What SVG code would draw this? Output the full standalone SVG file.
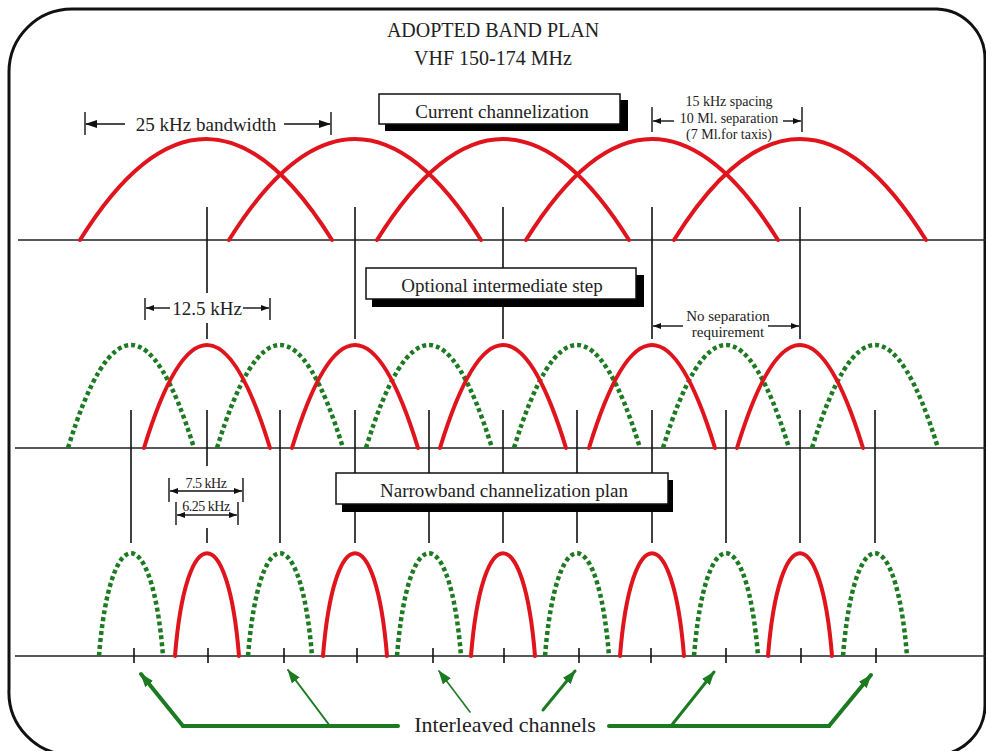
<svg xmlns="http://www.w3.org/2000/svg" width="986" height="751" viewBox="0 0 986 751">
<style>
.red{fill:none;stroke:#e0141c;stroke-width:4;stroke-linecap:round}
.grn{fill:none;stroke:#1c7a20;stroke-width:4.5;stroke-dasharray:4 3}
.ax{stroke:#222;stroke-width:1.6}
.vl{stroke:#111;stroke-width:1.6}
.t{font-family:"Liberation Serif","Times New Roman",serif;fill:#222}
.box{fill:#fff;stroke:#111;stroke-width:1.5}
.sh{fill:#000}
.dim{stroke:#111;stroke-width:1.4;fill:none}
.ga{stroke:#1c7a20;fill:none;stroke-linecap:round}
</style>
<defs>
<marker id="ah" markerUnits="userSpaceOnUse" markerWidth="12" markerHeight="8" refX="11" refY="4" orient="auto"><path d="M0,0 L12,4 L0,8 z" fill="#111"/></marker>
<marker id="ahs" markerUnits="userSpaceOnUse" markerWidth="8" markerHeight="6" refX="8" refY="3" orient="auto"><path d="M0,0 L8,3 L0,6 z" fill="#111"/></marker>
<marker id="gh" markerUnits="userSpaceOnUse" markerWidth="14" markerHeight="10" refX="13" refY="5" orient="auto"><path d="M0,0 L14,5 L0,10 z" fill="#1c7a20"/></marker>
</defs>
<rect width="986" height="751" fill="#fff"/>
<g id="border">
<path d="M9,689 L9,72 A63,63 0 0 1 72,9 L937,9 A50,50 0 0 1 985,59 L985,705 A50,50 0 0 1 935,755 L72,755 A63,63 0 0 1 9,689" fill="none" stroke="#111" stroke-width="3"/>
</g>
<g id="title">
<text class="t" x="493" y="37" font-size="20" text-anchor="middle">ADOPTED BAND PLAN</text>
<text class="t" x="493" y="65" font-size="20" text-anchor="middle">VHF 150-174 MHz</text>
</g>
<g id="axes">
<line class="ax" x1="18" y1="240" x2="986" y2="240"/>
<line class="ax" x1="15" y1="448" x2="986" y2="448"/>
<line class="ax" x1="15" y1="656" x2="986" y2="656"/>
</g>
<g id="connectors">
<line class="vl" x1="207" y1="207" x2="207" y2="293"/>
<line class="vl" x1="207" y1="323" x2="207" y2="339"/>
<line class="vl" x1="355" y1="207" x2="355" y2="339"/>
<line class="vl" x1="503" y1="207" x2="503" y2="339"/>
<line class="vl" x1="652" y1="207" x2="652" y2="339"/>
<line class="vl" x1="800" y1="207" x2="800" y2="339"/>
<line class="vl" x1="131" y1="410" x2="131" y2="543"/>
<line class="vl" x1="207" y1="410" x2="207" y2="466"/>
<line class="vl" x1="207" y1="528" x2="207" y2="543"/>
<line class="vl" x1="280" y1="410" x2="280" y2="543"/>
<line class="vl" x1="355" y1="410" x2="355" y2="543"/>
<line class="vl" x1="429" y1="410" x2="429" y2="543"/>
<line class="vl" x1="503" y1="410" x2="503" y2="543"/>
<line class="vl" x1="577" y1="410" x2="577" y2="543"/>
<line class="vl" x1="652" y1="410" x2="652" y2="543"/>
<line class="vl" x1="726" y1="410" x2="726" y2="543"/>
<line class="vl" x1="800" y1="410" x2="800" y2="543"/>
<line class="vl" x1="875" y1="410" x2="875" y2="543"/>
<g class="vl">
<line x1="134" y1="648" x2="134" y2="663"/><line x1="208" y1="648" x2="208" y2="663"/>
<line x1="284" y1="648" x2="284" y2="663"/><line x1="357" y1="648" x2="357" y2="663"/>
<line x1="433" y1="648" x2="433" y2="663"/><line x1="504" y1="648" x2="504" y2="663"/>
<line x1="579" y1="648" x2="579" y2="663"/><line x1="651" y1="648" x2="651" y2="663"/>
<line x1="726" y1="648" x2="726" y2="663"/><line x1="801" y1="648" x2="801" y2="663"/>
<line x1="876" y1="648" x2="876" y2="663"/>
</g>
</g>
<g id="top-arches">
<path class="red" d="M80,240 Q206,38 332,240"/>
<path class="red" d="M229,240 Q355,38 481,240"/>
<path class="red" d="M377,240 Q503,38 629,240"/>
<path class="red" d="M526,240 Q652,38 778,240"/>
<path class="red" d="M674,240 Q800,38 926,240"/>
</g>
<g id="middle-arches">
<path class="grn" d="M68,448 Q131,242 194,448"/>
<path class="grn" d="M217,448 Q280,242 343,448"/>
<path class="grn" d="M366,448 Q429,242 492,448"/>
<path class="grn" d="M514,448 Q577,242 640,448"/>
<path class="grn" d="M663,448 Q726,242 789,448"/>
<path class="grn" d="M812,448 Q875,242 938,448"/>
<path class="red" d="M144,448 Q207,242 270,448"/>
<path class="red" d="M292,448 Q355,242 418,448"/>
<path class="red" d="M440,448 Q503,242 566,448"/>
<path class="red" d="M589,448 Q652,242 715,448"/>
<path class="red" d="M737,448 Q800,242 863,448"/>
</g>
<g id="bottom-arches">
<path class="grn" d="M99,656 C110,519 152,519 163,656"/>
<path class="red" d="M175,656 C186,519 228,519 239,656"/>
<path class="grn" d="M248,656 C259,519 301,519 312,656"/>
<path class="red" d="M323,656 C334,519 376,519 387,656"/>
<path class="grn" d="M397,656 C408,519 450,519 461,656"/>
<path class="red" d="M471,656 C482,519 524,519 535,656"/>
<path class="grn" d="M545,656 C556,519 598,519 609,656"/>
<path class="red" d="M620,656 C631,519 673,519 684,656"/>
<path class="grn" d="M694,656 C705,519 747,519 758,656"/>
<path class="red" d="M768,656 C779,519 821,519 832,656"/>
<path class="grn" d="M843,656 C854,519 896,519 907,656"/>
</g>
<g id="box-current">
<rect class="sh" x="385" y="100" width="243" height="31"/>
<rect class="box" x="379" y="94" width="241" height="30"/>
<text class="t" x="502" y="118" font-size="19" text-anchor="middle">Current channelization</text>
</g>
<g id="box-optional">
<rect class="sh" x="372" y="275" width="272" height="32"/>
<rect class="box" x="366" y="268" width="270" height="31"/>
<text class="t" x="502" y="292" font-size="19" text-anchor="middle">Optional intermediate step</text>
</g>
<g id="box-narrowband">
<rect class="sh" x="342" y="480" width="331" height="32"/>
<rect class="box" x="336" y="473" width="332" height="31"/>
<text class="t" x="504" y="497" font-size="19" text-anchor="middle">Narrowband channelization plan</text>
</g>
<g id="label-25khz">
<line class="dim" x1="85" y1="112" x2="85" y2="135"/>
<line class="dim" x1="331" y1="112" x2="331" y2="135"/>
<line class="dim" x1="125" y1="124" x2="86" y2="124" marker-end="url(#ah)"/>
<line class="dim" x1="284" y1="124" x2="330" y2="124" marker-end="url(#ah)"/>
<text class="t" x="206" y="131" font-size="19" text-anchor="middle">25 kHz bandwidth</text>
</g>
<g id="label-15khz">
<line class="dim" x1="652" y1="107" x2="652" y2="132"/>
<line class="dim" x1="802" y1="107" x2="802" y2="132"/>
<line class="dim" x1="674" y1="121" x2="653" y2="121" marker-end="url(#ahs)"/>
<line class="dim" x1="783" y1="121" x2="801" y2="121" marker-end="url(#ahs)"/>
<text class="t" x="729" y="106" font-size="14" text-anchor="middle">15 kHz spacing</text>
<text class="t" x="729" y="123" font-size="14" text-anchor="middle">10 Ml. separation</text>
<text class="t" x="729" y="139" font-size="14" text-anchor="middle">(7 Ml.for taxis)</text>
</g>
<g id="label-12-5khz">
<line class="dim" x1="145" y1="298" x2="145" y2="320"/>
<line class="dim" x1="270" y1="298" x2="270" y2="320"/>
<line class="dim" x1="170" y1="308" x2="146" y2="308" marker-end="url(#ahs)"/>
<line class="dim" x1="243" y1="308" x2="269" y2="308" marker-end="url(#ahs)"/>
<text class="t" x="207" y="315" font-size="19" text-anchor="middle">12.5 kHz</text>
</g>
<g id="label-nosep">
<line class="dim" x1="683" y1="326" x2="653" y2="326" marker-end="url(#ahs)"/>
<line class="dim" x1="768" y1="326" x2="799" y2="326" marker-end="url(#ahs)"/>
<text class="t" x="728" y="321" font-size="15" text-anchor="middle">No separation</text>
<text class="t" x="728" y="337" font-size="15" text-anchor="middle">requirement</text>
</g>
<g id="label-7-5khz">
<line class="dim" x1="169" y1="478" x2="169" y2="502"/>
<line class="dim" x1="243" y1="478" x2="243" y2="502"/>
<line class="dim" x1="206" y1="491" x2="170" y2="491" marker-end="url(#ahs)"/>
<line class="dim" x1="206" y1="491" x2="242" y2="491" marker-end="url(#ahs)"/>
<text class="t" x="206" y="488" font-size="14" text-anchor="middle" letter-spacing="-0.5">7.5 kHz</text>
</g>
<g id="label-6-25khz">
<line class="dim" x1="176" y1="502" x2="176" y2="525"/>
<line class="dim" x1="238" y1="502" x2="238" y2="525"/>
<line class="dim" x1="207" y1="515" x2="177" y2="515" marker-end="url(#ahs)"/>
<line class="dim" x1="207" y1="515" x2="237" y2="515" marker-end="url(#ahs)"/>
<text class="t" x="206" y="511" font-size="14" text-anchor="middle" letter-spacing="-0.5">6.25 kHz</text>
</g>
<g id="label-interleaved">
<text class="t" x="505" y="732" font-size="22" text-anchor="middle">Interleaved channels</text>
<line class="ga" stroke-width="4" x1="183" y1="726" x2="398" y2="726"/>
<line class="ga" stroke-width="4" x1="609" y1="726" x2="829" y2="726"/>
<line class="ga" stroke-width="4" x1="183" y1="726" x2="141" y2="674" marker-end="url(#gh)"/>
<line class="ga" stroke-width="2" x1="330" y1="726" x2="288" y2="670" marker-end="url(#gh)"/>
<line class="ga" stroke-width="1.6" x1="470" y1="712" x2="439" y2="671" marker-end="url(#gh)"/>
<line class="ga" stroke-width="3" x1="543" y1="710" x2="575" y2="671" marker-end="url(#gh)"/>
<line class="ga" stroke-width="3" x1="671" y1="726" x2="714" y2="672" marker-end="url(#gh)"/>
<line class="ga" stroke-width="4" x1="829" y1="726" x2="871" y2="675" marker-end="url(#gh)"/>
</g>
</svg>
